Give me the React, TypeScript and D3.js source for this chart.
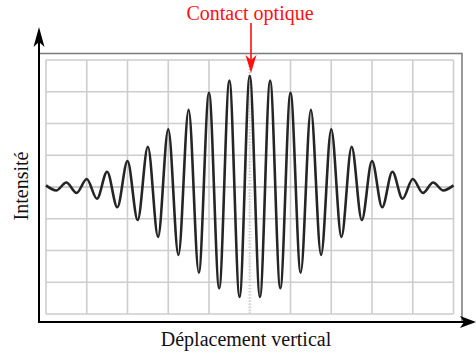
import React, { useEffect, useRef } from 'react';
import * as d3 from 'd3';

// extrema of the interferogram (peaks on integers, troughs on half-integers)
const displacement = [
  -10, -9.5, -9, -8.5, -8, -7.5, -7, -6.5, -6, -5.5, -5, -4.5, -4, -3.5, -3, -2.5, -2, -1.5, -1, -0.5,
  0, 0.5, 1, 1.5, 2, 2.5, 3, 3.5, 4, 4.5, 5, 5.5, 6, 6.5, 7, 7.5, 8, 8.5, 9, 9.5, 10,
];
const intensity = [
  0.05, -0.11, 0.14, -0.19, 0.25, -0.37, 0.48, -0.64, 0.82, -1.04, 1.27, -1.57, 1.82, -2.14, 2.43, -2.7, 2.97, -3.19, 3.35, -3.46,
  3.5, -3.46, 3.35, -3.19, 2.97, -2.7, 2.43, -2.14, 1.82, -1.57, 1.27, -1.04, 0.82, -0.64, 0.48, -0.37, 0.25, -0.19, 0.14, -0.11, 0.05,
];
const gridX = [-10, -8, -6, -4, -2, 0, 2, 4, 6, 8, 10];
const gridY = [-4, -3, -2, -1, 0, 1, 2, 3, 4];

const W = 476;
const H = 353;

const App: React.FC = () => {
  const svgRef = useRef<SVGSVGElement>(null);

  useEffect(() => {
    if (!svgRef.current) return;
    const svg = d3.select(svgRef.current);
    svg.selectAll('*').remove();

    const x = d3.scaleLinear().domain([-10, 10]).range([46, 453.5]);
    const y = d3.scaleLinear().domain([-4, 4]).range([314, 60]);

    // outer frame
    svg.append('path')
      .attr('d', 'M39,53.5 H462 V322')
      .attr('fill', 'none')
      .attr('stroke', '#7a7a7a')
      .attr('stroke-width', 1.5);

    // grid
    const grid = svg.append('g');
    grid.selectAll('line.v')
      .data(gridX.filter(d => d !== 0))
      .join('line')
      .attr('x1', d => x(d)).attr('x2', d => x(d))
      .attr('y1', y(4)).attr('y2', y(-4))
      .attr('stroke', '#cdcdcd')
      .attr('stroke-width', 1.6);
    grid.selectAll('line.h')
      .data(gridY)
      .join('line')
      .attr('x1', x(-10)).attr('x2', x(10))
      .attr('y1', d => y(d)).attr('y2', d => y(d))
      .attr('stroke', d => (d === 0 ? '#bdbdbd' : '#cdcdcd'))
      .attr('stroke-width', 1.6);

    // center vertical line (dotted, with small ticks)
    grid.append('line')
      .attr('x1', x(0)).attr('x2', x(0))
      .attr('y1', y(4)).attr('y2', y(-4))
      .attr('stroke', '#c4c4c4')
      .attr('stroke-width', 1.2)
      .attr('stroke-dasharray', '1.5,1.5');
    grid.selectAll('line.tick')
      .data(d3.range(-40, 41).map(i => i / 10))
      .join('line')
      .attr('x1', x(0) - 2).attr('x2', x(0) + 2)
      .attr('y1', d => y(d)).attr('y2', d => y(d))
      .attr('stroke', '#d4d4d4')
      .attr('stroke-width', 0.8);

    // signal
    const line = d3.line<number>()
      .x((_, i) => x(displacement[i]))
      .y(d => y(d))
      .curve(d3.curveMonotoneX);
    svg.append('path')
      .datum(intensity)
      .attr('d', line)
      .attr('fill', 'none')
      .attr('stroke', '#252525')
      .attr('stroke-width', 2.6)
      .attr('stroke-linejoin', 'round');

    // axes with arrows
    svg.append('line')
      .attr('x1', 39).attr('x2', 39)
      .attr('y1', 322.5).attr('y2', 34)
      .attr('stroke', '#000').attr('stroke-width', 2);
    svg.append('path')
      .attr('d', 'M39,27 L44.5,47 L39,42 L33.5,47 Z')
      .attr('fill', '#000');
    svg.append('line')
      .attr('x1', 38).attr('x2', 468)
      .attr('y1', 322).attr('y2', 322)
      .attr('stroke', '#000').attr('stroke-width', 2);
    svg.append('path')
      .attr('d', 'M476,322 L460,316 L464,322 L460,328 Z')
      .attr('fill', '#000');

    // contact optique annotation
    const red = '#ff1010';
    svg.append('line')
      .attr('x1', 251).attr('x2', 251)
      .attr('y1', 23).attr('y2', 62)
      .attr('stroke', red).attr('stroke-width', 1.6);
    svg.append('path')
      .attr('d', 'M251,73 L245.5,55 L251,60 L256.5,55 Z')
      .attr('fill', red);
    svg.append('text')
      .attr('x', 250).attr('y', 20)
      .attr('text-anchor', 'middle')
      .style('font-family', '"Liberation Serif", "Times New Roman", serif')
      .style('font-size', '20px')
      .style('fill', red)
      .text('Contact optique');

    // axis labels
    svg.append('text')
      .attr('x', 246).attr('y', 346)
      .attr('text-anchor', 'middle')
      .style('font-family', '"Liberation Serif", "Times New Roman", serif')
      .style('font-size', '20px')
      .style('fill', '#111')
      .text('Déplacement vertical');
    svg.append('text')
      .attr('transform', 'translate(28,186) rotate(-90)')
      .attr('text-anchor', 'middle')
      .style('font-family', '"Liberation Serif", "Times New Roman", serif')
      .style('font-size', '20px')
      .style('fill', '#111')
      .text('Intensité');
  }, []);

  return (
    <svg
      ref={svgRef}
      width={W}
      height={H}
      style={{ position: 'absolute', left: 0, top: 0, display: 'block', background: '#fff' }}
    />
  );
};

export default App;
